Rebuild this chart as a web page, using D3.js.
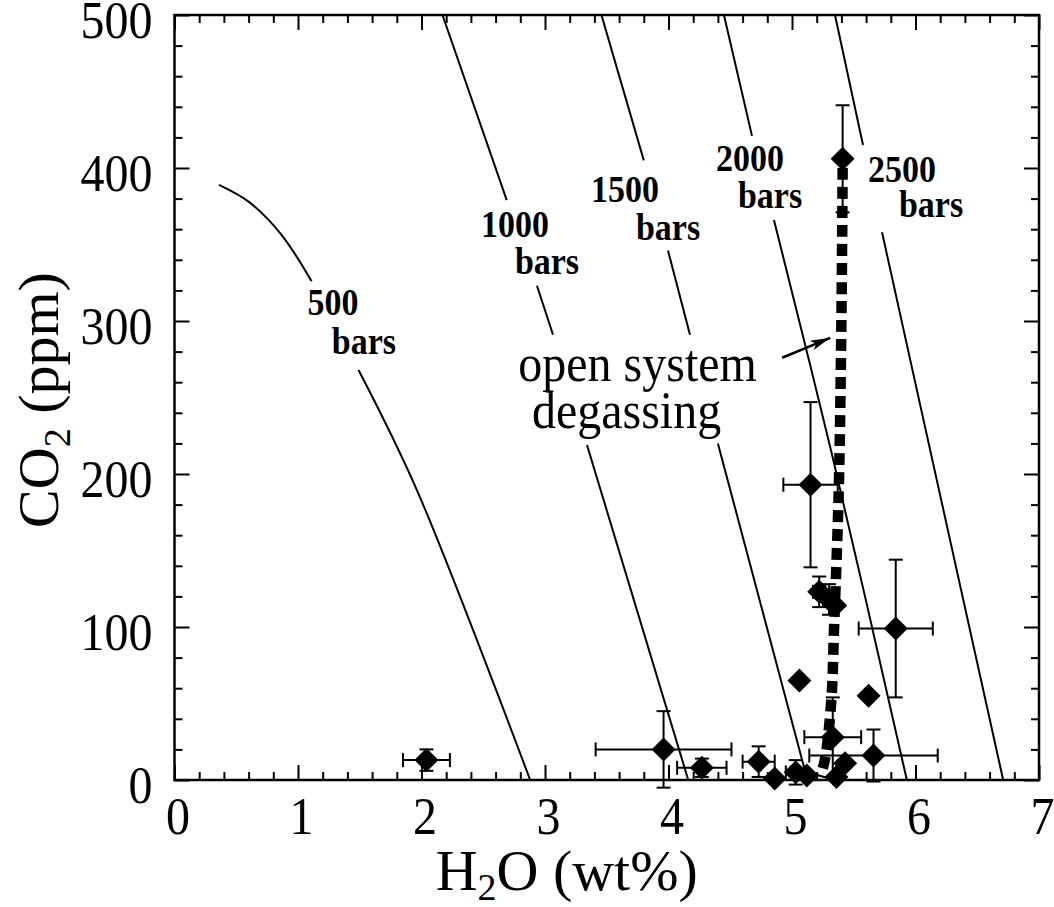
<!DOCTYPE html>
<html><head><meta charset="utf-8">
<script src="https://cdn.jsdelivr.net/npm/d3@7"></script>
<style>
html,body{margin:0;padding:0;background:#fff;}
svg{display:block;}
text{font-family:"Liberation Serif","Times New Roman",serif;fill:#000;}
</style></head>
<body>
<svg id="chart" width="1054" height="907"></svg>
<script>
// ---------- data ----------
const xTicks = [0,1,2,3,4,5,6,7];
const yTicks = [0,100,200,300,400,500];
// melt inclusion data: H2O (wt%), CO2 (ppm), x-error, y-error
const ptH2O = [2.04,3.96,4.27,4.73,4.86,5.03,5.12,5.06,5.15,5.22,5.30,5.35,5.33,5.43,5.36,5.62,5.66,5.84,5.41];
const ptCO2 = [13,20,8,12,1,5,3,65,193,123,118,114,28,11,2,55,16,99,406];
const ptXerr = [0.19,0.55,0.20,0.13,0,0.08,0,0,0.22,0.05,0.05,0,0.23,0,0,0,0.52,0.30,0];
const ptYerr = [7,25,6,10,0,8,0,0,54,10,10,0,26,0,0,0,17,45,35];
// isobars (segments separated where labels interrupt the lines)
const isobar500 = [[[0.36,389],[0.60,378],[0.86,357],[1.11,326]],[[1.49,268],[1.96,190],[2.88,0]]];
const isobar1000 = [[[2.17,500],[2.69,379]],[[2.935,323],[3.065,291]],[[3.34,219],[4.16,0]]];
const isobar1500 = [[[3.457,500],[3.80,405]],[[3.996,346],[4.174,291]],[[4.40,220],[5.125,0]]];
const isobar2000 = [[[4.449,500],[4.676,421]],[[4.854,366],[5.32,214],[5.93,0]]];
const isobar2500 = [[[5.348,500],[5.575,415]],[[5.729,358],[6.263,163],[6.71,0]]];
// open system degassing path
const degasH2O = [5.41,5.40,5.38,5.36,5.34,5.32,5.27,5.23];
const degasCO2 = [400,300,194,142,98,54,15,2];
// isobar labels
const isoLabels = ["500","bars","1000","bars","1500","bars","2000","bars","2500","bars"];
const isoLabelX = [1.283,1.534,2.757,3.016,3.648,3.996,4.660,4.822,5.891,6.126];
const isoLabelY = [312,287,363,339,386,361,406,382,399,376];
const noteLines = ["open system","degassing"];
const noteX = [3.75,3.66];
const noteY = [261,230];
const arrowFrom = [4.92,276];
const arrowTo = [5.31,289];

// ---------- layout ----------
const svg = d3.select("#chart");
const L=174.5, R=1039, T=15, B=780;
const SY = 1.12; // vertical stretch of the original typesetting
const x = d3.scaleLinear().domain([0,7]).range([L,R]);
const y = d3.scaleLinear().domain([0,500]).range([B,T]);

const defs = svg.append("defs");
defs.append("marker").attr("id","arr").attr("viewBox","0 0 20 10")
  .attr("refX",20).attr("refY",5).attr("markerWidth",20).attr("markerHeight",10)
  .attr("markerUnits","userSpaceOnUse").attr("orient","auto")
  .append("path").attr("d","M0,0 L20,5 L0,10 L5,5 Z").attr("fill","#000");

const xMinor = d3.range(0,7.001,0.2).filter(v=>Math.abs(v-Math.round(v))>1e-6);
const yMinor = d3.range(0,500.1,20).filter(v=>v%100!==0);

function styleAxis(g){
  g.select(".domain").remove();
  g.selectAll("line").attr("stroke","#000").attr("stroke-width",2);
}
// major ticks with labels
svg.append("g").attr("transform",`translate(0,${B})`)
  .call(d3.axisBottom(x).tickValues(xTicks).tickSize(-15).tickPadding(14).tickFormat(d3.format("d")))
  .call(styleAxis)
  .selectAll("text").attr("font-size",48).attr("font-family","Liberation Serif").attr("dx",3)
  .attr("transform",`scale(1,${SY})`);
svg.append("g").attr("transform",`translate(${L},0)`)
  .call(d3.axisLeft(y).tickValues(yTicks).tickSize(-15).tickPadding(22).tickFormat(d3.format("d")))
  .call(styleAxis)
  .selectAll("text").attr("font-size",48).attr("font-family","Liberation Serif").attr("dy","0.42em")
  .attr("transform",`scale(1,${SY})`);
svg.append("g").attr("transform",`translate(0,${T})`)
  .call(d3.axisTop(x).tickValues(xTicks).tickSize(-15).tickFormat(""))
  .call(styleAxis);
svg.append("g").attr("transform",`translate(${R},0)`)
  .call(d3.axisRight(y).tickValues(yTicks).tickSize(-15).tickFormat(""))
  .call(styleAxis);
// minor ticks
svg.append("g").attr("transform",`translate(0,${B})`)
  .call(d3.axisBottom(x).tickValues(xMinor).tickSize(-8).tickFormat("")).call(styleAxis);
svg.append("g").attr("transform",`translate(0,${T})`)
  .call(d3.axisTop(x).tickValues(xMinor).tickSize(-8).tickFormat("")).call(styleAxis);
svg.append("g").attr("transform",`translate(${L},0)`)
  .call(d3.axisLeft(y).tickValues(yMinor).tickSize(-8).tickFormat("")).call(styleAxis);
svg.append("g").attr("transform",`translate(${R},0)`)
  .call(d3.axisRight(y).tickValues(yMinor).tickSize(-8).tickFormat("")).call(styleAxis);
// frame
svg.append("rect").attr("x",L).attr("y",T).attr("width",R-L).attr("height",B-T)
  .attr("fill","none").attr("stroke","#000").attr("stroke-width",2.5);

// axis titles
const xt = svg.append("text").attr("transform",`translate(${(L+R)/2-40},890)`)
  .attr("text-anchor","middle").attr("font-size",58);
xt.append("tspan").text("H");
xt.append("tspan").text("2").attr("font-size",38).attr("dy",10);
xt.append("tspan").text("O (wt%)").attr("dy",-10);
const yt = svg.append("text").attr("transform","translate(58,400) rotate(-90)").attr("text-anchor","middle").attr("font-size",58);
yt.append("tspan").text("CO");
yt.append("tspan").text("2").attr("font-size",38).attr("dy",12);
yt.append("tspan").text(" (ppm)").attr("dy",-12);

// isobar lines
const lineL = d3.line().x(d=>x(d[0])).y(d=>y(d[1])).curve(d3.curveCatmullRom);
[isobar500,isobar1000,isobar1500,isobar2000,isobar2500].forEach(iso=>{
  iso.forEach(seg=>{
    svg.append("path").attr("d",lineL(seg)).attr("fill","none").attr("stroke","#000").attr("stroke-width",2);
  });
});
// isobar labels
svg.append("g").selectAll("text").data(isoLabels).join("text")
  .attr("transform",(d,i)=>`translate(${x(isoLabelX[i])},${y(isoLabelY[i])}) scale(1,${SY})`)
  .attr("text-anchor","middle").attr("dominant-baseline","central")
  .attr("font-size",34).attr("font-weight","bold").text(d=>d);

// degassing path
const degas = degasH2O.map((v,i)=>[v,degasCO2[i]]);
svg.append("path").attr("d",lineL(degas)).attr("fill","none").attr("stroke","#000")
  .attr("stroke-width",10.5).attr("stroke-dasharray","12 7");

// note text + arrow
svg.append("g").selectAll("text").data(noteLines).join("text")
  .attr("transform",(d,i)=>`translate(${x(noteX[i])},${y(noteY[i])}) scale(1,${SY})`)
  .attr("text-anchor","middle").attr("font-size",48).text(d=>d);
svg.append("line").attr("x1",x(arrowFrom[0])).attr("y1",y(arrowFrom[1]))
  .attr("x2",x(arrowTo[0])).attr("y2",y(arrowTo[1])).attr("stroke","#000").attr("stroke-width",2.5)
  .attr("marker-end","url(#arr)");

// error bars
const pts = ptH2O.map((v,i)=>({x:v,y:ptCO2[i],ex:ptXerr[i],ey:ptYerr[i]}));
const eb = svg.append("g").attr("stroke","#000").attr("stroke-width",2);
const cap = 7;
pts.forEach(p=>{
  if(p.ex>0){
    eb.append("line").attr("x1",x(p.x-p.ex)).attr("x2",x(p.x+p.ex)).attr("y1",y(p.y)).attr("y2",y(p.y));
    [p.x-p.ex,p.x+p.ex].forEach(v=>eb.append("line").attr("x1",x(v)).attr("x2",x(v)).attr("y1",y(p.y)-cap).attr("y2",y(p.y)+cap));
  }
  if(p.ey>0){
    eb.append("line").attr("x1",x(p.x)).attr("x2",x(p.x)).attr("y1",y(p.y-p.ey)).attr("y2",y(p.y+p.ey));
    [p.y-p.ey,p.y+p.ey].forEach(v=>eb.append("line").attr("x1",x(p.x)-cap).attr("x2",x(p.x)+cap).attr("y1",y(v)).attr("y2",y(v)));
  }
});
// diamonds
const r=12;
svg.append("g").selectAll("path").data(pts).join("path")
  .attr("transform",d=>`translate(${x(d.x)},${y(d.y)})`)
  .attr("d",`M0,${-r} L${r},0 L0,${r} L${-r},0 Z`).attr("fill","#000");
</script>
</body></html>
